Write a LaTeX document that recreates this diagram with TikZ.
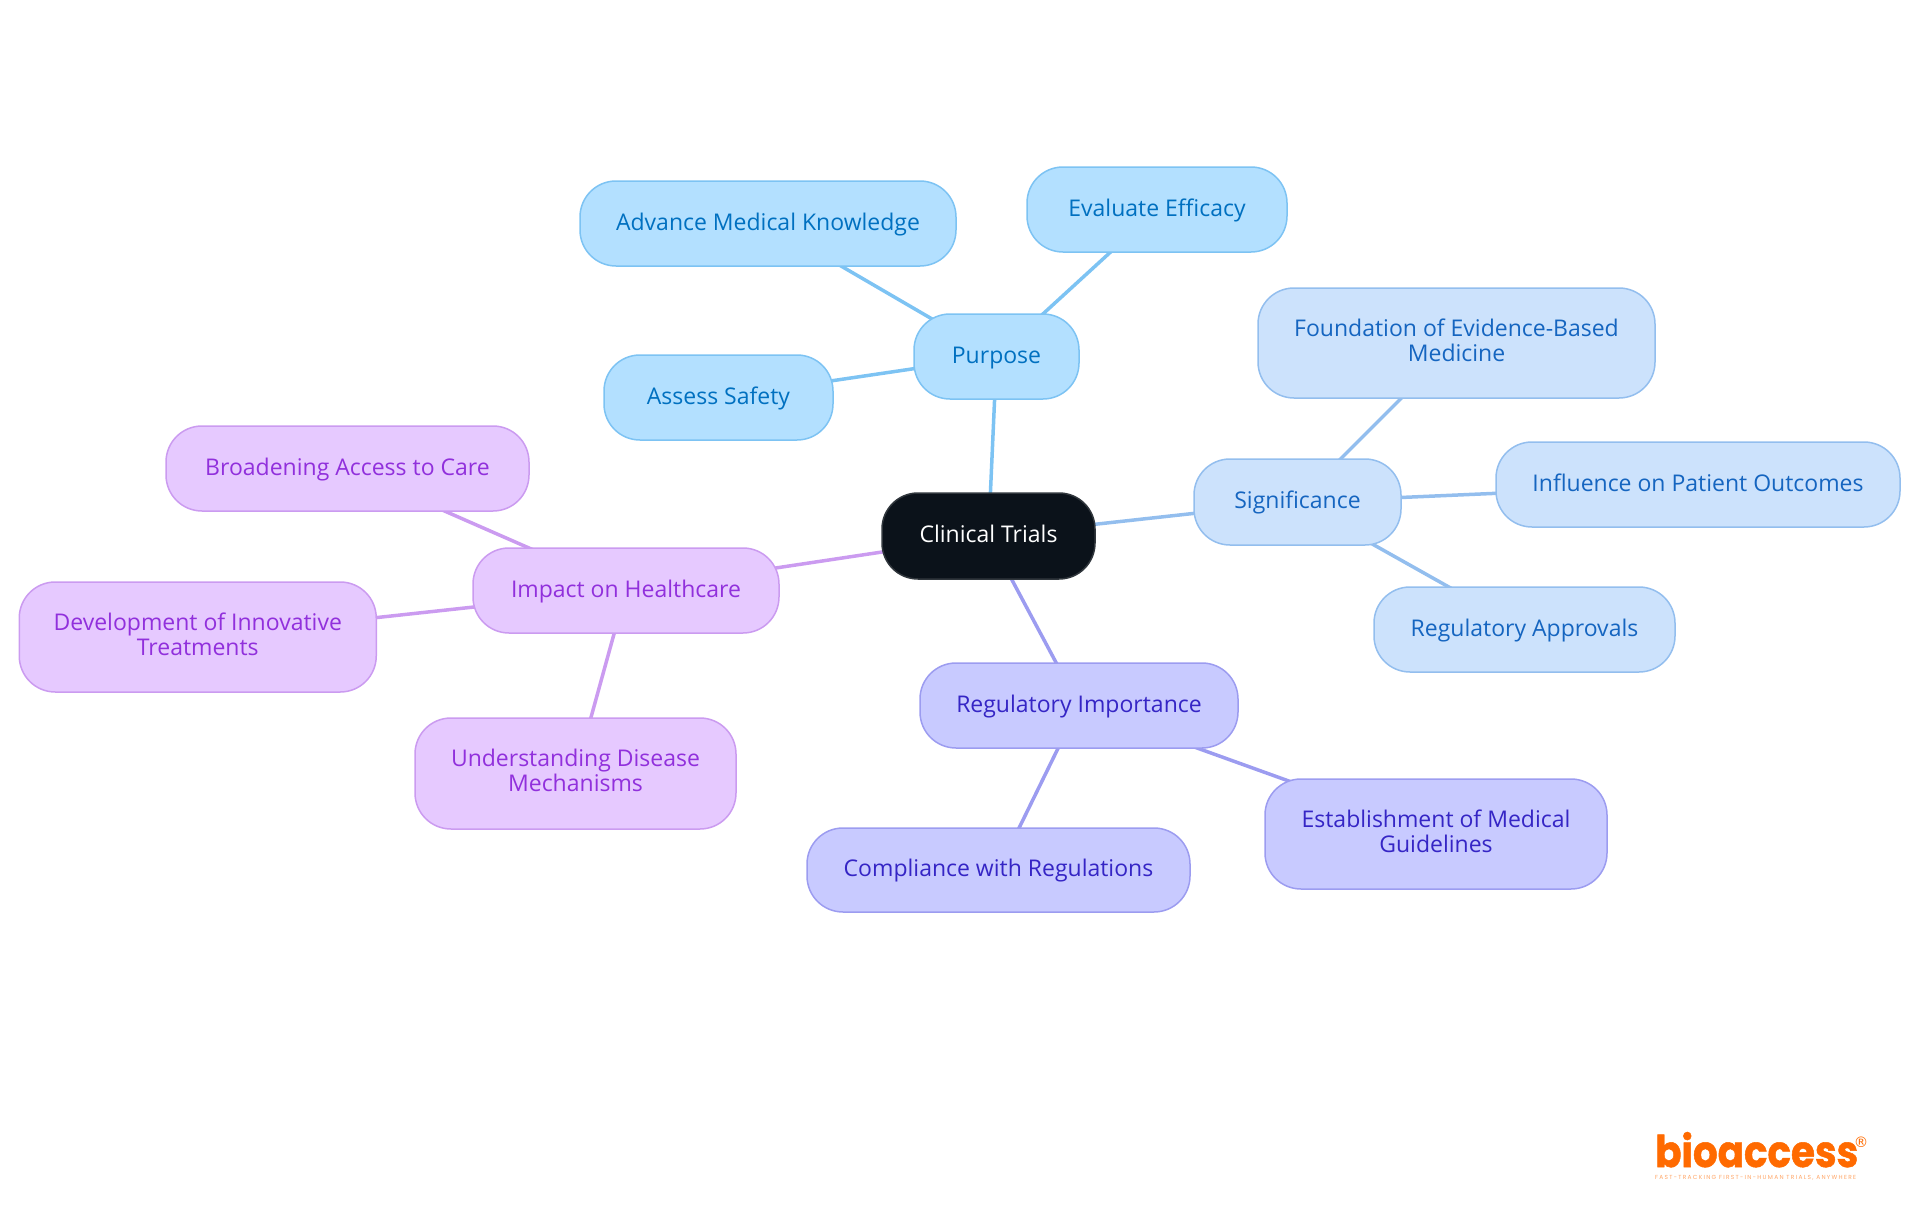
\documentclass[tikz,border=0pt]{standalone}
\usepackage{fontspec}
\usepackage{graphicx}
\setmainfont{Open Sans}
\newfontfamily\logofont[BoldFeatures={FakeBold=1.2}]{Poppins}
\newfontfamily\tagfont[LetterSpace=22]{Poppins}
\newfontfamily\regfont{DejaVu Sans}
\usetikzlibrary{backgrounds}
\definecolor{bluefill}{HTML}{B3E0FF}\definecolor{blueline}{HTML}{7DC3F3}\definecolor{bluetext}{HTML}{0070C0}
\definecolor{skyfill}{HTML}{CCE2FC}\definecolor{skyline}{HTML}{93BEEE}\definecolor{skytext}{HTML}{1565C0}
\definecolor{indfill}{HTML}{C8CAFF}\definecolor{indline}{HTML}{9C9CF0}\definecolor{indtext}{HTML}{3525C5}
\definecolor{purfill}{HTML}{E6C9FF}\definecolor{purline}{HTML}{CB9BF0}\definecolor{purtext}{HTML}{9130DC}
\definecolor{darkfill}{HTML}{0B121A}\definecolor{logoorange}{HTML}{FF6A00}
\tikzset{
  x=1pt,y=-1pt,
  mm/.style={rounded corners=36pt,line width=1.5pt,inner sep=0pt,align=center,font=\fontsize{23}{25}\selectfont,text height=18pt,text depth=5pt},
  twoline/.style={text height=45.4pt,text depth=9pt},
  root/.style={mm,fill=darkfill,draw=darkfill!85!white,text=white},
  blue/.style={mm,fill=bluefill,draw=blueline,text=bluetext},
  sky/.style={mm,fill=skyfill,draw=skyline,text=skytext},
  ind/.style={mm,fill=indfill,draw=indline,text=indtext},
  pur/.style={mm,fill=purfill,draw=purline,text=purtext},
  bluelink/.style={draw=blueline,line width=3.5pt},
  skylink/.style={draw=skyline,line width=3.5pt},
  indlink/.style={draw=indline,line width=3.5pt},
  purlink/.style={draw=purline,line width=3.5pt},
}
\begin{document}
\begin{tikzpicture}
\useasboundingbox (0,0) rectangle (1920,1215);
\node[root,minimum width=213pt,minimum height=86pt] (clinical) at (988.5,536) {Clinical Trials};
\node[blue,minimum width=165pt,minimum height=85pt] (purpose) at (996.5,356.5) {Purpose};
\node[blue,minimum width=376pt,minimum height=85pt] (advance) at (768,223.5) {Advance Medical Knowledge};
\node[blue,minimum width=260pt,minimum height=85pt] (evaluate) at (1157,209.5) {Evaluate Efficacy};
\node[blue,minimum width=229pt,minimum height=85pt] (assess) at (718.5,397.5) {Assess Safety};
\node[sky,minimum width=207pt,minimum height=86pt] (significance) at (1297.5,502) {Significance};
\node[sky,twoline,minimum width=397pt,minimum height=110pt] (foundation) at (1456.5,343) {Foundation of Evidence-Based\\Medicine};
\node[sky,minimum width=404pt,minimum height=85pt] (influence) at (1698,484.5) {Influence on Patient Outcomes};
\node[sky,minimum width=301pt,minimum height=85pt] (approvals) at (1524.5,629.5) {Regulatory Approvals};
\node[ind,minimum width=318pt,minimum height=85pt] (regimp) at (1079,705.5) {Regulatory Importance};
\node[ind,minimum width=383pt,minimum height=84pt] (compliance) at (998.5,870) {Compliance with Regulations};
\node[ind,twoline,minimum width=342pt,minimum height=110pt] (establish) at (1436,834) {Establishment of Medical\\Guidelines};
\node[pur,minimum width=306pt,minimum height=85pt] (impact) at (626,590.5) {Impact on Healthcare};
\node[pur,minimum width=363pt,minimum height=85pt] (broadening) at (347.5,468.5) {Broadening Access to Care};
\node[pur,twoline,minimum width=357pt,minimum height=110pt] (development) at (197.75,637) {Development of Innovative\\Treatments};
\node[pur,twoline,minimum width=321pt,minimum height=111pt] (understanding) at (575.5,773.5) {Understanding Disease\\Mechanisms};
\begin{scope}[on background layer]
\draw[bluelink] (clinical.center) -- (purpose.center);
\draw[bluelink] (purpose.center) -- (advance.center);
\draw[bluelink] (purpose.center) -- (evaluate.center);
\draw[bluelink] (purpose.center) -- (assess.center);
\draw[skylink] (clinical.center) -- (significance.center);
\draw[skylink] (significance.center) -- (foundation.center);
\draw[skylink] (significance.center) -- (influence.center);
\draw[skylink] (significance.center) -- (approvals.center);
\draw[indlink] (clinical.center) -- (regimp.center);
\draw[indlink] (regimp.center) -- (compliance.center);
\draw[indlink] (regimp.center) -- (establish.center);
\draw[purlink] (clinical.center) -- (impact.center);
\draw[purlink] (impact.center) -- (broadening.center);
\draw[purlink] (impact.center) -- (development.center);
\draw[purlink] (impact.center) -- (understanding.center);
\end{scope}
\node[anchor=base west,inner sep=0pt,text=logoorange] (logo) at (1655,1167) {\resizebox{203pt}{35pt}{\logofont\bfseries bioaccess}};
\node[inner sep=0pt,text=logoorange] (reg) at (1861,1142) {\regfont\fontsize{14.5}{14.5}\selectfont ®};
\node[anchor=base west,inner sep=0pt,text=logoorange!60] (tagline) at (1655,1179.5) {\resizebox{201pt}{!}{\tagfont FAST-TRACKING FIRST-IN-HUMAN TRIALS, ANYWHERE}};
\end{tikzpicture}
\end{document}
